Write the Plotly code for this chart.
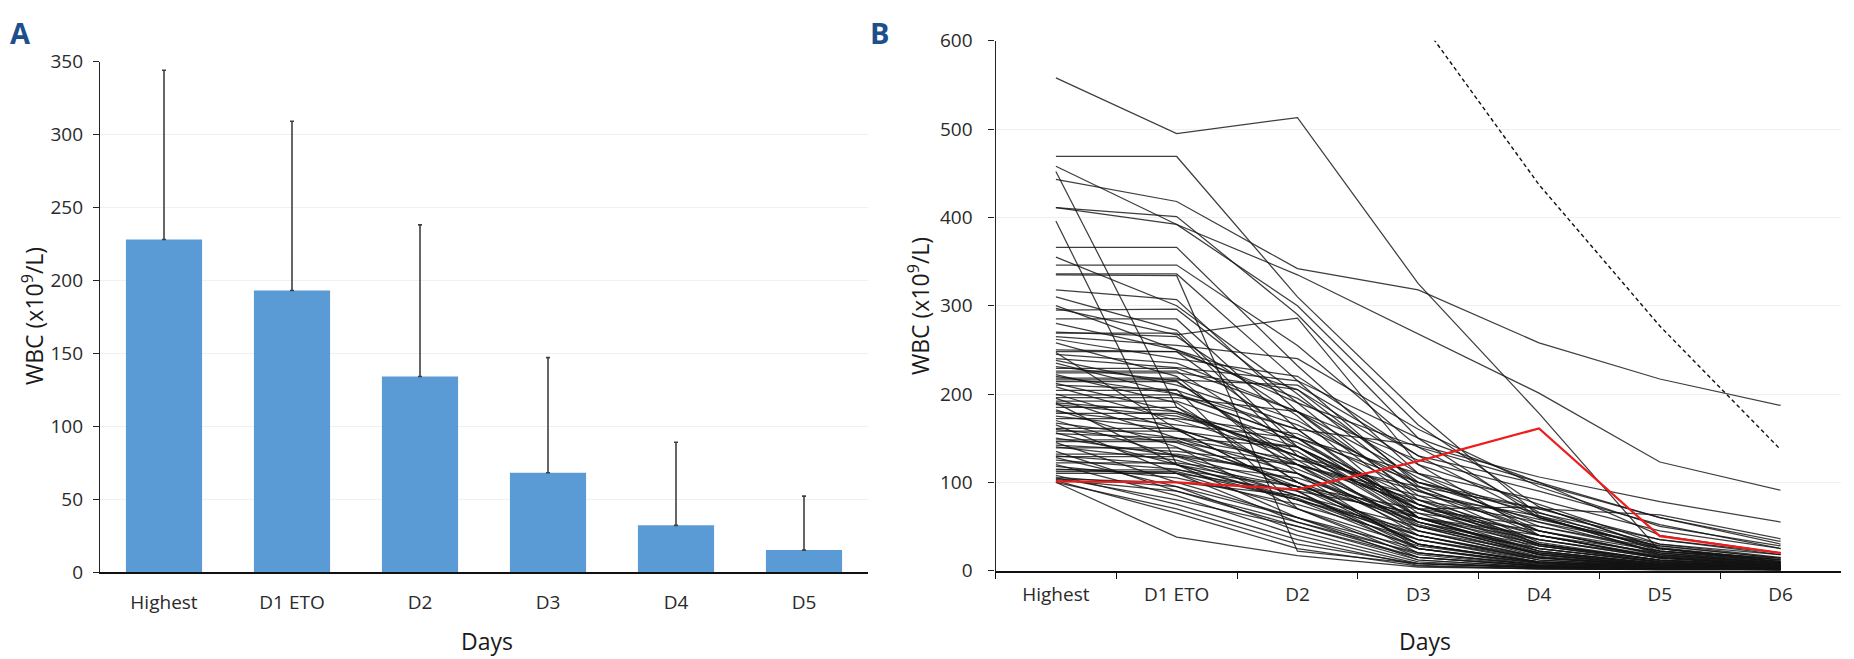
import plotly.graph_objects as go

W, H = 1854, 659

# Panel A: mean WBC per day with upward SD bars
days_a = ["Highest", "D1 ETO", "D2", "D3", "D4", "D5"]
mean_wbc = [228, 193, 134, 68, 32, 15]
sd_wbc = [116, 116, 104, 79, 57, 37]

# Panel B: individual patient WBC courses
days_b = ["Highest", "D1 ETO", "D2", "D3", "D4", "D5", "D6"]
patient_wbc = [
    [558, 495, 513, 325, 178, 22, 14],
    [469, 469, 310, 178, 62, 18, 9],
    [443, 418, 342, 318, 258, 217, 187],
    [458, 392, 335, 268, 201, 123, 91],
    [411, 401, 290, 150, 60, 20, 8],
    [411, 392, 300, 165, 72, 26, 12],
    [452, 185, 120, 52, 20, 8, 4],
    [396, 120, 82, 30, 10, 5, 3],
    [366, 366, 232, 110, 45, 17, 8],
    [355, 300, 200, 92, 32, 12, 5],
    [346, 346, 255, 140, 66, 22, 10],
    [336, 336, 215, 96, 40, 15, 6],
    [335, 334, 22, 8, 4, 2, 1],
    [318, 307, 180, 75, 28, 10, 4],
    [310, 272, 140, 60, 22, 8, 3],
    [297, 267, 286, 120, 40, 14, 6],
    [295, 296, 190, 80, 30, 11, 5],
    [285, 285, 160, 142, 106, 78, 55],
    [280, 250, 205, 100, 70, 63, 36],
    [270, 265, 175, 60, 18, 6, 2],
    [269, 269, 130, 45, 15, 5, 2],
    [262, 240, 220, 130, 98, 60, 33],
    [258, 220, 110, 25, 6, 3, 2],
    [250, 248, 150, 70, 25, 9, 4],
    [248, 248, 195, 110, 60, 25, 12],
    [247, 160, 90, 20, 6, 3, 1],
    [240, 230, 215, 150, 100, 40, 20],
    [235, 200, 160, 65, 22, 8, 3],
    [231, 215, 120, 40, 12, 4, 2],
    [229, 229, 180, 85, 30, 12, 5],
    [226, 226, 140, 55, 18, 6, 3],
    [224, 224, 205, 120, 75, 30, 15],
    [222, 190, 100, 30, 9, 4, 2],
    [218, 218, 170, 95, 45, 18, 8],
    [214, 214, 125, 50, 16, 6, 3],
    [212, 180, 140, 75, 35, 14, 6],
    [210, 205, 70, 15, 5, 2, 1],
    [208, 170, 130, 90, 58, 28, 14],
    [204, 204, 160, 60, 20, 7, 3],
    [200, 160, 90, 25, 8, 3, 1],
    [199, 199, 150, 100, 55, 20, 9],
    [195, 150, 110, 45, 15, 5, 2],
    [192, 192, 145, 80, 40, 15, 7],
    [190, 120, 60, 12, 4, 2, 1],
    [190, 180, 130, 70, 72, 25, 10],
    [188, 175, 135, 55, 18, 6, 3],
    [185, 185, 100, 30, 10, 4, 2],
    [182, 140, 70, 20, 6, 3, 1],
    [178, 178, 130, 70, 28, 10, 4],
    [175, 160, 120, 85, 62, 30, 18],
    [170, 130, 95, 40, 12, 5, 2],
    [167, 150, 140, 75, 30, 12, 6],
    [165, 110, 55, 15, 5, 2, 1],
    [161, 161, 115, 60, 22, 8, 3],
    [160, 145, 100, 35, 10, 4, 2],
    [156, 120, 80, 25, 8, 3, 1],
    [155, 150, 125, 95, 70, 35, 20],
    [150, 130, 110, 50, 18, 7, 3],
    [148, 148, 95, 30, 9, 3, 1],
    [146, 146, 120, 75, 40, 16, 7],
    [145, 100, 60, 18, 5, 2, 1],
    [140, 125, 85, 40, 14, 5, 2],
    [139, 139, 100, 55, 25, 10, 4],
    [135, 90, 50, 12, 4, 2, 1],
    [130, 120, 95, 60, 30, 12, 5],
    [129, 129, 85, 35, 12, 5, 2],
    [128, 95, 45, 10, 3, 1, 1],
    [125, 115, 80, 45, 20, 8, 3],
    [120, 85, 40, 8, 3, 1, 1],
    [118, 105, 75, 35, 14, 5, 2],
    [115, 110, 90, 65, 45, 22, 12],
    [112, 112, 80, 40, 15, 6, 2],
    [110, 110, 70, 28, 10, 4, 2],
    [108, 75, 35, 6, 2, 1, 1],
    [106, 95, 60, 25, 9, 3, 1],
    [105, 80, 50, 15, 5, 2, 1],
    [104, 100, 85, 50, 25, 10, 4],
    [103, 90, 55, 20, 7, 3, 1],
    [100, 38, 17, 4, 2, 1, 1],
    [102, 65, 25, 5, 2, 1, 1],
    [100, 70, 30, 8, 3, 1, 1],
    [300, 250, 190, 140, 100, 60, 30],
    [265, 255, 240, 160, 95, 50, 28],
    [245, 235, 180, 125, 90, 52, 25],
    [238, 210, 165, 100, 65, 35, 18],
    [220, 200, 150, 60, 40, 20, 10],
    [216, 216, 210, 130, 60, 25, 12],
    [196, 196, 180, 105, 50, 22, 10],
    [180, 165, 150, 110, 80, 45, 25],
    [172, 172, 155, 90, 45, 18, 8],
    [158, 158, 140, 70, 35, 14, 6],
    [142, 135, 120, 80, 55, 28, 14],
    [132, 132, 110, 55, 28, 12, 5],
    [122, 122, 105, 60, 35, 16, 7],
    [114, 114, 95, 70, 50, 25, 10],
]
highlight_wbc = [101, 100, 92, 124, 161, 39, 20]
dashed_wbc = [1050, 980, 850, 626, 437, 277, 137]

FONT = "Open Sans"
TICK_FONT = dict(family=FONT, size=19, color="#2a2a2a")
TITLE_FONT = dict(family=FONT, size=23, color="#1a1a1a")
PANEL_FONT = dict(family=FONT, size=29, color="#1d4f8c")


def fx(px):
    return px / W


def fy(py):
    return 1 - py / H


fig = go.Figure()

fig.add_trace(go.Bar(
    x=days_a, y=mean_wbc,
    marker=dict(color="#5b9bd5", line=dict(width=0)),
    error_y=dict(type="data", array=sd_wbc, arrayminus=[0] * len(sd_wbc),
                 symmetric=False, color="#404040", thickness=1.6, width=2),
    xaxis="x", yaxis="y", showlegend=False,
))

for row in patient_wbc:
    fig.add_trace(go.Scatter(
        x=days_b, y=row, mode="lines",
        line=dict(color="rgba(20,20,20,0.82)", width=1.25),
        xaxis="x2", yaxis="y2", showlegend=False, hoverinfo="skip",
    ))

fig.add_trace(go.Scatter(
    x=days_b, y=highlight_wbc, mode="lines",
    line=dict(color="#ee1c1c", width=2.2),
    xaxis="x2", yaxis="y2", showlegend=False,
))
fig.add_trace(go.Scatter(
    x=days_b, y=dashed_wbc, mode="lines",
    line=dict(color="#111111", width=1.4, dash="4px,3px"),
    xaxis="x2", yaxis="y2", showlegend=False,
))

fig.update_layout(
    width=W, height=H,
    margin=dict(l=0, r=0, t=0, b=0, autoexpand=False),
    paper_bgcolor="white", plot_bgcolor="white",
    bargap=0.405,
    xaxis=dict(
        domain=[fx(100), fx(868)], anchor="y", type="category",
        range=[-0.5, 5.5], showline=True, linecolor="#111111", linewidth=1.6,
        ticks="", showgrid=False, tickfont=TICK_FONT, ticklabelstandoff=12,
        automargin=False,
    ),
    yaxis=dict(
        domain=[fy(572), fy(61.5)], anchor="x",
        range=[0, 350], dtick=50, showline=True, linecolor="#222222",
        linewidth=1.3, ticks="outside", ticklen=6, tickcolor="#222222",
        gridcolor="#f0f0f0", gridwidth=1, zeroline=False,
        tickfont=TICK_FONT, ticklabelstandoff=6, automargin=False,
    ),
    xaxis2=dict(
        domain=[fx(995.5), fx(1841)], anchor="y2", type="category",
        range=[-0.5, 6.5], showline=True, linecolor="#111111", linewidth=1.6,
        ticks="outside", tickson="boundaries", ticklen=7, tickcolor="#111111",
        tickwidth=1.3, showgrid=False, tickfont=TICK_FONT, ticklabelstandoff=6,
        automargin=False,
    ),
    yaxis2=dict(
        domain=[fy(570.6), fy(40.8)], anchor="x2",
        range=[0, 600], dtick=100, showline=True, linecolor="#222222",
        linewidth=1.3, ticks="outside", ticklen=6, tickcolor="#222222",
        gridcolor="#f0f0f0", gridwidth=1, zeroline=False,
        tickfont=TICK_FONT, ticklabelstandoff=12, automargin=False,
    ),
)

annotations = [
    dict(text="<b>A</b>", x=fx(8), y=fy(33), xanchor="left", yanchor="middle", font=PANEL_FONT),
    dict(text="<b>B</b>", x=fx(868), y=fy(33), xanchor="left", yanchor="middle", font=PANEL_FONT),
    dict(text="WBC (x10<sup>9</sup>/L)", x=fx(33), y=fy(316), textangle=-90,
         xanchor="center", yanchor="middle", font=TITLE_FONT),
    dict(text="WBC (x10<sup>9</sup>/L)", x=fx(919), y=fy(306), textangle=-90,
         xanchor="center", yanchor="middle", font=TITLE_FONT),
    dict(text="Days", x=fx(487), y=fy(641), xanchor="center", yanchor="middle", font=TITLE_FONT),
    dict(text="Days", x=fx(1425), y=fy(641), xanchor="center", yanchor="middle", font=TITLE_FONT),
]
for a in annotations:
    a.update(xref="paper", yref="paper", showarrow=False)
fig.update_layout(annotations=annotations)

fig.write_html("out.html")
